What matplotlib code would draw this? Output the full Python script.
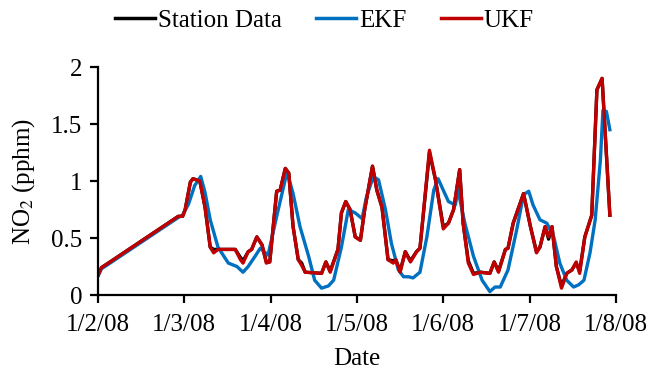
import matplotlib
matplotlib.use("Agg")
import matplotlib.pyplot as plt

# x in days since 1/2/08
ukf_t = [0, 0.04, 0.12, 0.93, 0.98, 1.01, 1.07, 1.10, 1.18, 1.24, 1.30, 1.34, 1.39, 1.59, 1.65, 1.68,
         1.74, 1.78, 1.84, 1.90, 1.95, 1.99, 2.07, 2.11, 2.17, 2.21, 2.26, 2.32, 2.36, 2.40, 2.59, 2.64,
         2.69, 2.78, 2.82, 2.87, 2.92, 2.98, 3.04, 3.09, 3.18, 3.23, 3.29, 3.36, 3.42, 3.45, 3.50, 3.56,
         3.62, 3.69, 3.73, 3.84, 3.91, 4.00, 4.06, 4.12, 4.19, 4.23, 4.29, 4.35, 4.43, 4.54, 4.59, 4.64,
         4.72, 4.75, 4.81, 4.93, 5.01, 5.08, 5.12, 5.18, 5.22, 5.26, 5.31, 5.37, 5.43, 5.49, 5.54, 5.58,
         5.64, 5.72, 5.78, 5.84, 5.93]
ukf_v = [0.17, 0.24, 0.28, 0.69, 0.69, 0.75, 0.99, 1.02, 1.00, 0.77, 0.42, 0.37, 0.40, 0.40, 0.31, 0.28,
         0.38, 0.40, 0.51, 0.44, 0.28, 0.29, 0.91, 0.92, 1.11, 1.07, 0.60, 0.31, 0.26, 0.20, 0.19, 0.29,
         0.20, 0.40, 0.72, 0.82, 0.75, 0.51, 0.48, 0.75, 1.13, 0.92, 0.77, 0.31, 0.28, 0.31, 0.20, 0.38,
         0.29, 0.38, 0.41, 1.27, 1.01, 0.58, 0.63, 0.75, 1.10, 0.63, 0.28, 0.18, 0.20, 0.19, 0.29, 0.20,
         0.40, 0.41, 0.63, 0.89, 0.60, 0.37, 0.42, 0.60, 0.51, 0.60, 0.25, 0.06, 0.19, 0.22, 0.29, 0.19,
         0.51, 0.70, 1.80, 1.90, 0.70]

station_t = ukf_t
station_v = [0.17, 0.24, 0.28, 0.69, 0.69, 0.75, 0.99, 1.02, 1.00, 0.77, 0.42, 0.40, 0.40, 0.40, 0.33, 0.30,
             0.38, 0.40, 0.51, 0.44, 0.29, 0.29, 0.91, 0.92, 1.11, 1.07, 0.60, 0.31, 0.28, 0.20, 0.19, 0.29,
             0.21, 0.40, 0.72, 0.82, 0.75, 0.51, 0.48, 0.75, 1.13, 0.92, 0.77, 0.31, 0.30, 0.31, 0.21, 0.38,
             0.30, 0.38, 0.41, 1.25, 1.01, 0.60, 0.63, 0.75, 1.10, 0.63, 0.30, 0.19, 0.20, 0.19, 0.29, 0.21,
             0.40, 0.41, 0.63, 0.89, 0.60, 0.38, 0.42, 0.60, 0.49, 0.60, 0.25, 0.08, 0.19, 0.22, 0.28, 0.21,
             0.51, 0.70, 1.80, 1.90, 0.70]

ekf_t = [0, 0.04, 0.12, 0.93, 0.98, 1.05, 1.12, 1.19, 1.24, 1.30, 1.39, 1.51, 1.61, 1.68, 1.74, 1.82,
         1.88, 1.97, 2.07, 2.19, 2.26, 2.34, 2.44, 2.51, 2.59, 2.67, 2.73, 2.82, 2.90, 2.98, 3.06, 3.11,
         3.19, 3.25, 3.33, 3.40, 3.48, 3.54, 3.60, 3.65, 3.73, 3.81, 3.89, 3.94, 4.06, 4.14, 4.17, 4.25,
         4.35, 4.45, 4.54, 4.60, 4.66, 4.75, 4.85, 4.93, 4.99, 5.04, 5.12, 5.20, 5.28, 5.35, 5.43, 5.51,
         5.57, 5.63, 5.70, 5.76, 5.82, 5.85, 5.89, 5.93]
ekf_v = [0.17, 0.23, 0.27, 0.68, 0.70, 0.80, 0.96, 1.04, 0.90, 0.66, 0.42, 0.28, 0.25, 0.20, 0.25, 0.34,
         0.41, 0.35, 0.69, 1.08, 0.89, 0.60, 0.34, 0.13, 0.06, 0.08, 0.13, 0.42, 0.75, 0.72, 0.67, 0.86,
         1.04, 1.01, 0.75, 0.45, 0.22, 0.16, 0.16, 0.15, 0.20, 0.51, 0.92, 1.02, 0.82, 0.79, 0.92, 0.63,
         0.34, 0.13, 0.03, 0.07, 0.07, 0.22, 0.57, 0.88, 0.91, 0.79, 0.66, 0.63, 0.51, 0.28, 0.13, 0.07,
         0.09, 0.13, 0.37, 0.66, 1.18, 1.62, 1.61, 1.45]

x_ticks = [0, 1, 2, 3, 4, 5, 6]
x_labels = ["1/2/08", "1/3/08", "1/4/08", "1/5/08", "1/6/08", "1/7/08", "1/8/08"]
y_ticks = [0, 0.5, 1, 1.5, 2]
y_labels = ["0", "0.5", "1", "1.5", "2"]

plt.rcParams["font.family"] = ["Liberation Serif", "DejaVu Serif"]
plt.rcParams["mathtext.fontset"] = "stix"

fig = plt.figure(figsize=(6.49, 3.76), dpi=100)
ax = fig.add_axes([0.151, 0.2154, 0.798, 0.6064])

lw = 2.4
ax.plot(station_t, station_v, color="black", lw=lw, label="Station Data", solid_joinstyle="round")
ax.plot(ekf_t, ekf_v, color="#0070C0", lw=lw, label="EKF", solid_joinstyle="round")
ax.plot(ukf_t, ukf_v, color="#C00000", lw=lw, label="UKF", solid_joinstyle="round")

ax.set_xlim(0, 6)
ax.set_ylim(0, 2)
ax.set_xticks(x_ticks)
ax.set_xticklabels(x_labels)
ax.set_yticks(y_ticks)
ax.set_yticklabels(y_labels)
for s in ["top", "right"]:
    ax.spines[s].set_visible(False)
for s in ["left", "bottom"]:
    ax.spines[s].set_linewidth(1.6)
ax.tick_params(axis="both", direction="out", length=5.5, width=1.6, labelsize=18)
ax.tick_params(axis="x", pad=8)
ax.tick_params(axis="y", pad=6)
ax.set_xlabel("Date", fontsize=18, labelpad=9)
ax.set_ylabel("NO$_2$ (pphm)", fontsize=18, labelpad=10)

leg = fig.legend(loc="upper center", bbox_to_anchor=(0.5, 1.035), ncol=3, frameon=False,
                 fontsize=18, handlelength=1.6, handletextpad=0.1, columnspacing=1.4)
for line in leg.get_lines():
    line.set_linewidth(2.5)

fig.savefig("out.png", dpi=100)
